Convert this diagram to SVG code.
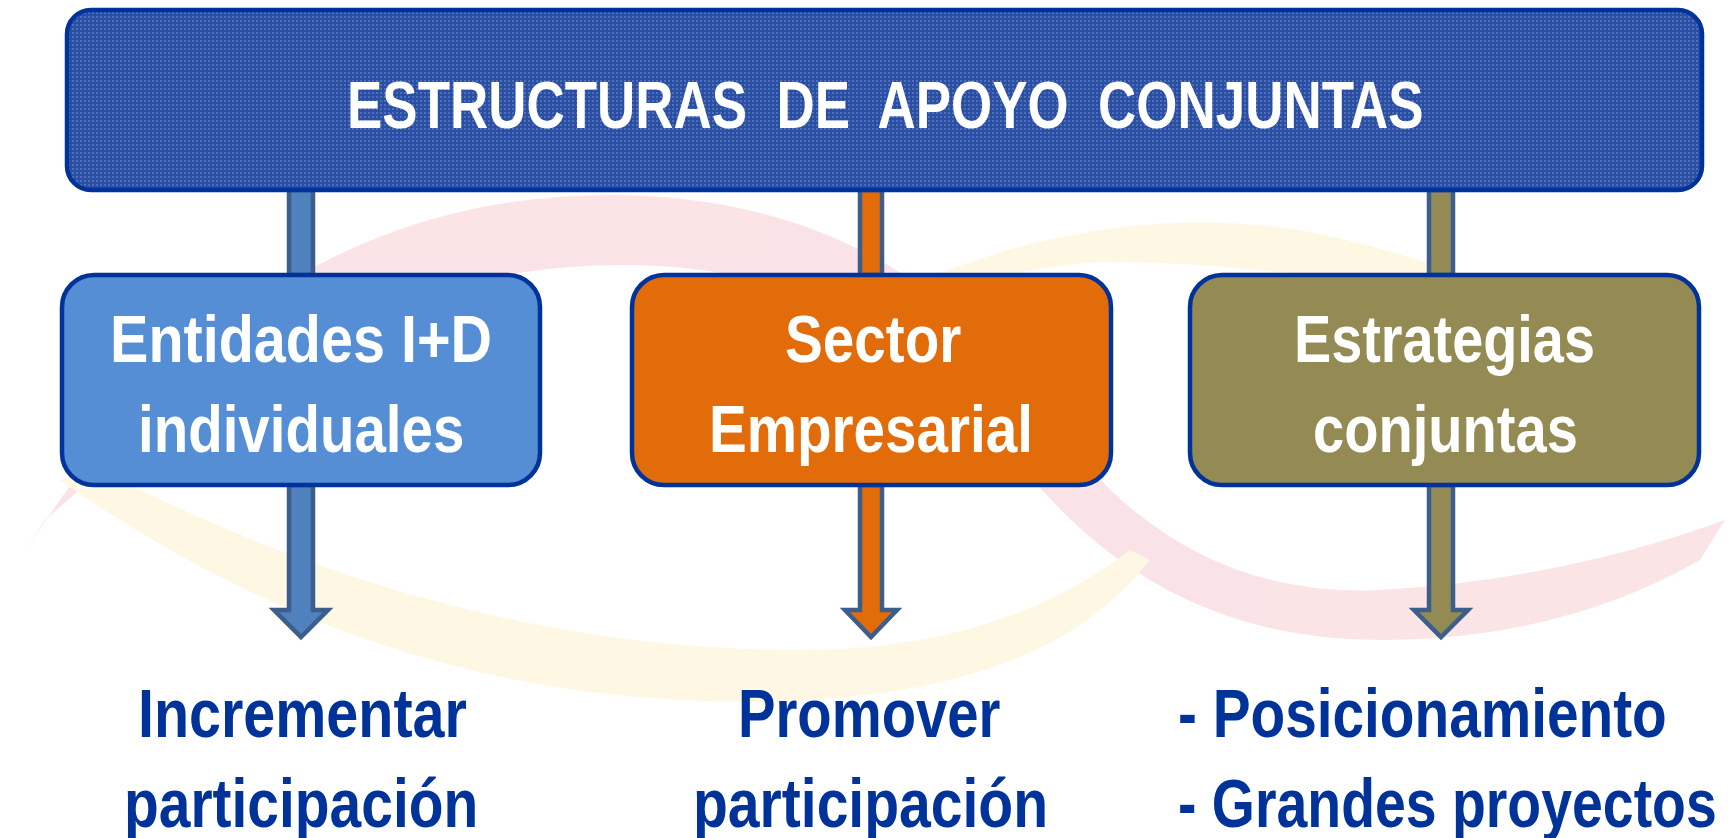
<svg xmlns="http://www.w3.org/2000/svg" width="1733" height="838" viewBox="0 0 1733 838">
<defs>
<pattern id="tex" width="4" height="4" patternUnits="userSpaceOnUse">
<rect width="4" height="4" fill="#2A4FA2"/>
<rect x="0" y="0" width="2" height="2" fill="#4E70BC"/>
</pattern>
<style>
.bar{fill:url(#tex);stroke:#003399;stroke-width:4.5}
.box{stroke:#003399;stroke-width:4.5}
.arr{stroke:#3B5E8C;stroke-width:4.5;stroke-linejoin:miter}
.wt{font-family:"Liberation Sans",Arial,sans-serif;fill:#FFFFFF;font-size:66px;font-weight:bold}
.bt{font-family:"Liberation Sans",Arial,sans-serif;fill:#003399;font-size:68px;font-weight:bold}
</style>
</defs>
<rect width="1733" height="838" fill="#FFFFFF"/>
<g id="background" opacity="0.8">
<path d="M20,560 Q250,190 620,195 Q900,200 1050,420 Q1180,600 1380,590 Q1560,580 1725,520 L1700,560 Q1560,640 1380,640 Q1150,640 1010,450 Q880,265 620,265 Q330,265 45,520 Z" fill="#FADDE0"/>
<path d="M60,480 Q400,720 800,700 Q1050,690 1150,560 L1130,550 Q1000,650 800,650 Q450,650 100,470 Z" fill="#FEF6DE"/>
<path d="M900,290 Q1100,200 1300,230 Q1450,260 1500,300 L1480,310 Q1300,262 1100,262 Q980,272 920,302 Z" fill="#FEF6DE"/>
</g>
<g id="connectors">
<rect class="arr" x="289" y="190" width="24" height="85" fill="#4F81BD"/>
<rect class="arr" x="860" y="190" width="22" height="85" fill="#E36C0A"/>
<rect class="arr" x="1429" y="190" width="24" height="85" fill="#948A54"/>
<path class="arr" d="M289,485 L313,485 L313,610 L328,610 L301,637 L274,610 L289,610 Z" fill="#4F81BD"/>
<path class="arr" d="M860,485 L882,485 L882,610 L897,610 L871,637 L845,610 L860,610 Z" fill="#E36C0A"/>
<path class="arr" d="M1429,485 L1453,485 L1453,610 L1468,610 L1441,637 L1414,610 L1429,610 Z" fill="#948A54"/>
</g>
<g id="title">
<rect class="bar" x="67" y="10" width="1635" height="180" rx="24" ry="24"/>
<text class="wt" transform="translate(347,128) scale(0.82,1)" textLength="1313" lengthAdjust="spacingAndGlyphs" xml:space="preserve">ESTRUCTURAS  DE  APOYO  CONJUNTAS</text>
</g>
<g id="node-entidades">
<rect class="box" x="62" y="275" width="478" height="210" rx="32" ry="32" fill="#558ED5"/>
<text class="wt" transform="translate(110,362) scale(0.82,1)" textLength="466" lengthAdjust="spacingAndGlyphs">Entidades I+D</text>
<text class="wt" transform="translate(138,452) scale(0.82,1)" textLength="398" lengthAdjust="spacingAndGlyphs">individuales</text>
</g>
<g id="node-sector">
<rect class="box" x="632" y="275" width="479" height="210" rx="32" ry="32" fill="#E36C0A"/>
<text class="wt" transform="translate(785,362) scale(0.82,1)" textLength="215" lengthAdjust="spacingAndGlyphs">Sector</text>
<text class="wt" transform="translate(709,452) scale(0.82,1)" textLength="395" lengthAdjust="spacingAndGlyphs">Empresarial</text>
</g>
<g id="node-estrategias">
<rect class="box" x="1190" y="275" width="509" height="210" rx="32" ry="32" fill="#948A54"/>
<text class="wt" transform="translate(1294,362) scale(0.82,1)" textLength="367" lengthAdjust="spacingAndGlyphs">Estrategias</text>
<text class="wt" transform="translate(1313,452) scale(0.82,1)" textLength="323" lengthAdjust="spacingAndGlyphs">conjuntas</text>
</g>
<g id="result-incrementar">
<text class="bt" transform="translate(138,737) scale(0.82,1)" textLength="401" lengthAdjust="spacingAndGlyphs">Incrementar</text>
<text class="bt" transform="translate(124,827) scale(0.82,1)" textLength="432" lengthAdjust="spacingAndGlyphs">participación</text>
</g>
<g id="result-promover">
<text class="bt" transform="translate(738,737) scale(0.82,1)" textLength="320" lengthAdjust="spacingAndGlyphs">Promover</text>
<text class="bt" transform="translate(693,827) scale(0.82,1)" textLength="433" lengthAdjust="spacingAndGlyphs">participación</text>
</g>
<g id="result-posicionamiento">
<text class="bt" transform="translate(1178,737) scale(0.82,1)" textLength="596" lengthAdjust="spacingAndGlyphs">- Posicionamiento</text>
<text class="bt" transform="translate(1178,827) scale(0.82,1)" textLength="657" lengthAdjust="spacingAndGlyphs">- Grandes proyectos</text>
</g>
</svg>
